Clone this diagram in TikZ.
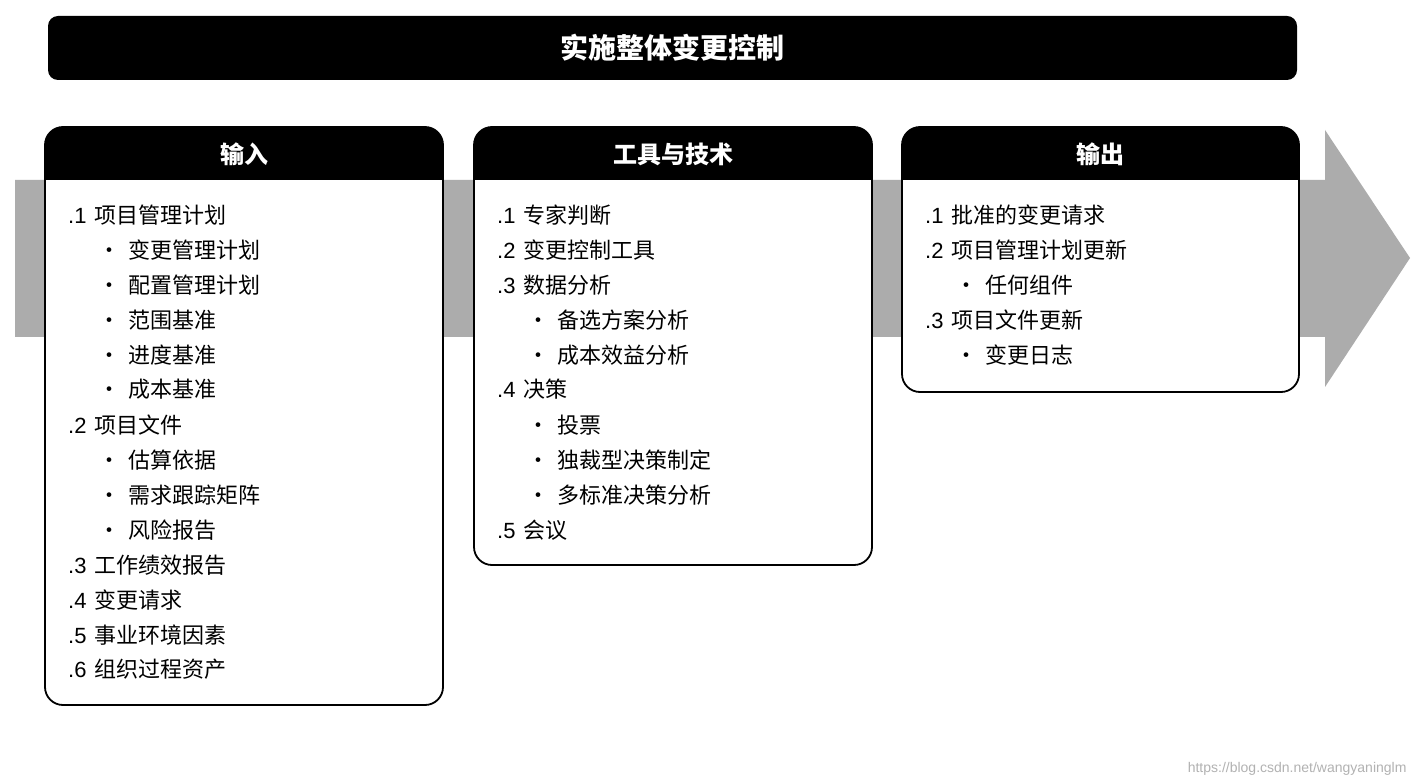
\documentclass[tikz,border=0pt]{standalone}
\usepackage{fontspec}
\setmainfont{Noto Sans CJK SC}
\newfontfamily\latinf{Liberation Sans}
\begin{document}
\begin{tikzpicture}[x=1pt,y=-1pt,
  item/.style={anchor=base west,font=\fontsize{22}{24}\selectfont,inner sep=0},
  hdr/.style={text=white,font=\fontsize{24}{26}\selectfont\bfseries}]
\useasboundingbox (0,0) rectangle (1419,783);
\fill[white] (0,0) rectangle (1419,783);
% gray arrow
\fill[gray!65] (15,180) -- (1325,180) -- (1325,130) -- (1410,258) -- (1325,387) -- (1325,337) -- (15,337) -- cycle;
% title
\node[fill=black,rounded corners=10,minimum width=1249,minimum height=64,hdr,font=\fontsize{28}{30}\selectfont\bfseries] (title) at (672.5,48) {实施整体变更控制};
\def\panel#1#2#3#4#5{%
  \draw[white,fill=white,line width=1.5,rounded corners=18] (#1,127) rectangle (#2,#3);
  \fill[black] (#1,180) [rounded corners=18] -- (#1,127) -- (#2,127) [sharp corners] -- (#2,180) -- cycle;
  \draw[black,line width=1.8,rounded corners=18] (#1,127) rectangle (#2,#3);
  \node[hdr] (#5) at ({(#1+#2)/2},154) {#4};}
\panel{45}{443}{705}{输入}{hin}
\panel{474}{872}{565}{工具与技术}{htool}
\panel{902}{1299}{392}{输出}{hout}
% items: \it{x}{n}{number}{text}
\newcommand\numit[5]{\node[item] (#1) at (#2,#3) {\latinf #4\hspace{8pt}\rmfamily #5};}
\newcommand\bulit[4]{\node[item] (#1) at (#2,#3) {\textbullet\hspace{8pt}#4};}
\def\dy{34.9}
% inputs
\numit{i1}{68}{224}{.1}{项目管理计划}
\bulit{i1a}{98}{259}{变更管理计划}
\bulit{i1b}{98}{294}{配置管理计划}
\bulit{i1c}{98}{329}{范围基准}
\bulit{i1d}{98}{364}{进度基准}
\bulit{i1e}{98}{398}{成本基准}
\numit{i2}{68}{433}{.2}{项目文件}
\bulit{i2a}{98}{468}{估算依据}
\bulit{i2b}{98}{503}{需求跟踪矩阵}
\bulit{i2c}{98}{538}{风险报告}
\numit{i3}{68}{573}{.3}{工作绩效报告}
\numit{i4}{68}{608}{.4}{变更请求}
\numit{i5}{68}{643}{.5}{事业环境因素}
\numit{i6}{68}{677}{.6}{组织过程资产}
% tools
\numit{t1}{497}{224}{.1}{专家判断}
\numit{t2}{497}{259}{.2}{变更控制工具}
\numit{t3}{497}{294}{.3}{数据分析}
\bulit{t3a}{527}{329}{备选方案分析}
\bulit{t3b}{527}{364}{成本效益分析}
\numit{t4}{497}{398}{.4}{决策}
\bulit{t4a}{527}{433}{投票}
\bulit{t4b}{527}{468}{独裁型决策制定}
\bulit{t4c}{527}{503}{多标准决策分析}
\numit{t5}{497}{538}{.5}{会议}
% outputs
\numit{o1}{925}{224}{.1}{批准的变更请求}
\numit{o2}{925}{259}{.2}{项目管理计划更新}
\bulit{o2a}{955}{294}{任何组件}
\numit{o3}{925}{329}{.3}{项目文件更新}
\bulit{o3a}{955}{364}{变更日志}
\node[anchor=base east,text=gray!60,font=\latinf\fontsize{14}{16}\selectfont] (wm) at (1410,772) {https://blog.csdn.net/wangyaninglm};
\end{tikzpicture}
\end{document}
